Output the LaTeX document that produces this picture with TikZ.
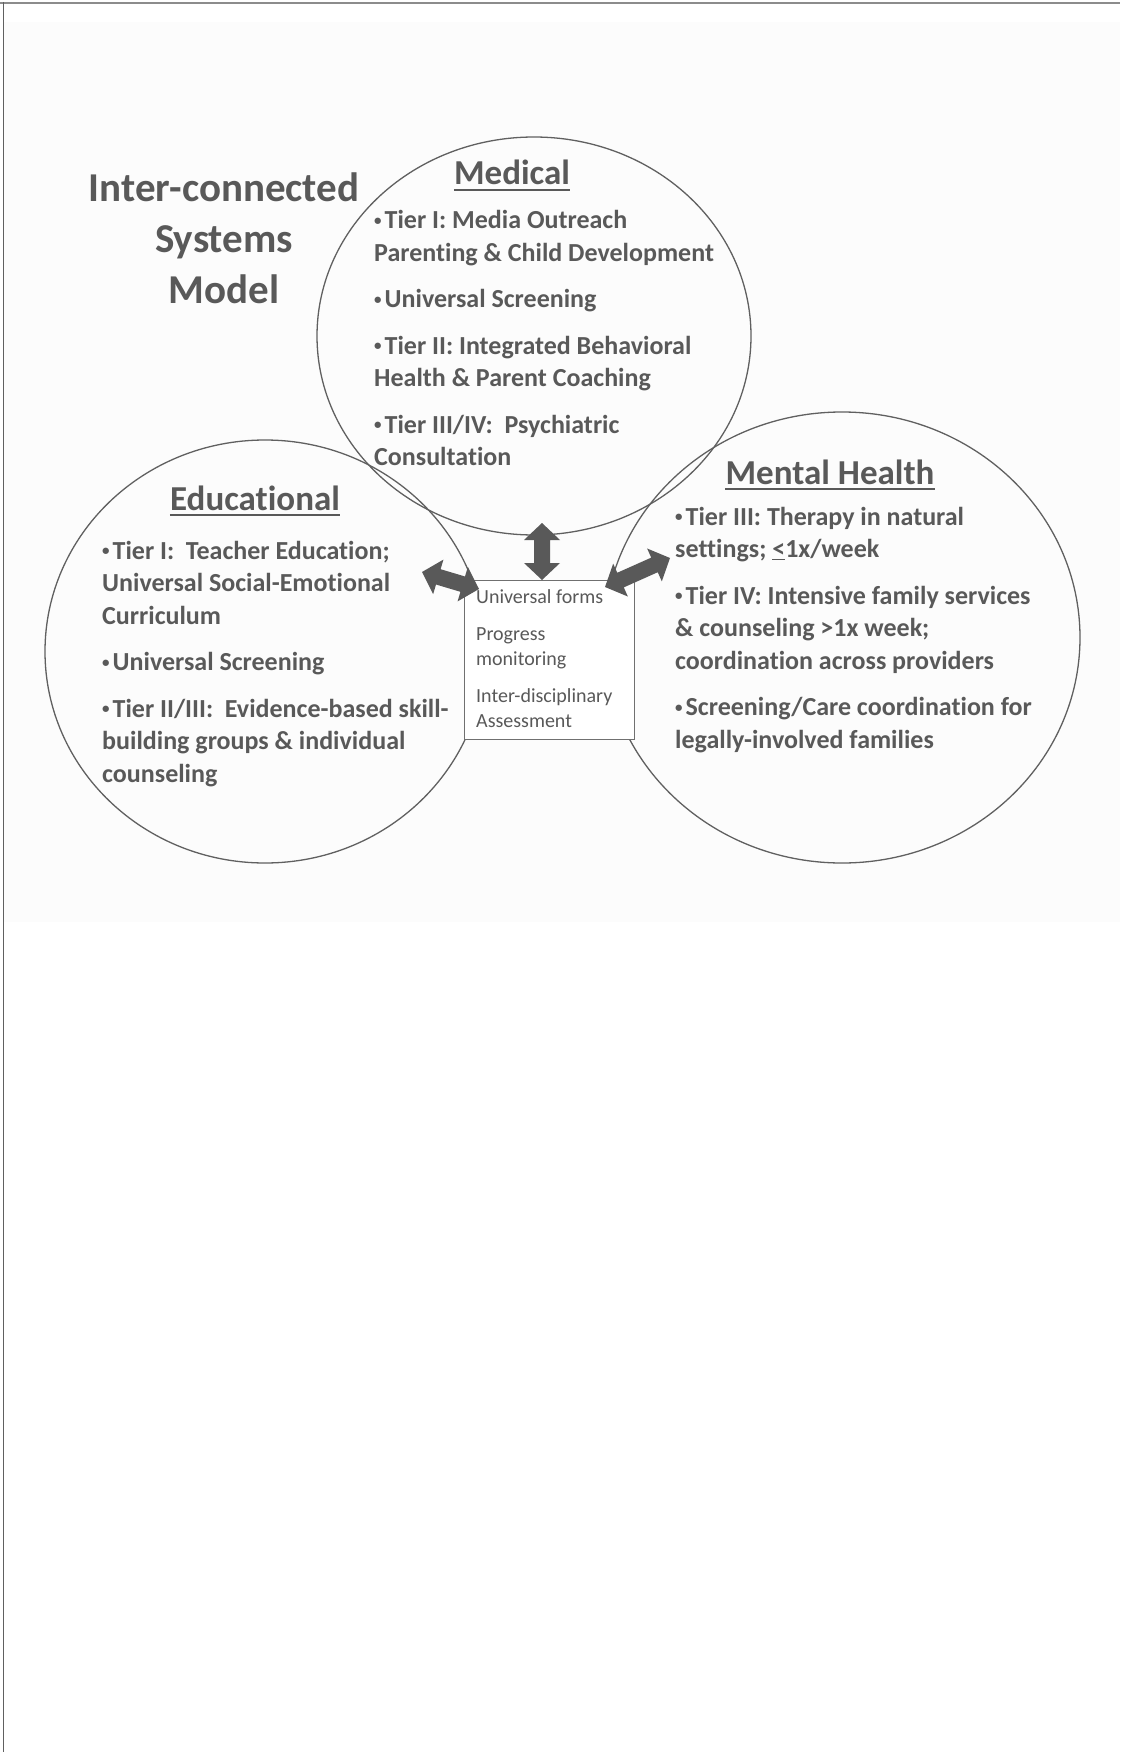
\documentclass[tikz,border=0pt]{standalone}
\usepackage{fontspec}
\setmainfont{Carlito}[Ligatures={NoCommon,NoContextual,NoRequired},Contextuals={NoAlternate}]
\usetikzlibrary{shapes.geometric,calc}
\definecolor{ink}{HTML}{595959}
\definecolor{rim}{HTML}{606060}
\definecolor{boxrim}{HTML}{707070}
\definecolor{haze}{HTML}{FCFCFC}
\definecolor{frameline}{HTML}{8C8C8C}
% one text line of a left-aligned stack
\newcommand\tline[1]{\hbox{#1}}
% one centred text line of a stack
\newcommand\midline[1]{\hbox to 0pt{\hss#1\hss}}
% extra space between bullet items
\newcommand\pgap{\vskip 14pt}
% small list bullet
\newcommand\bul{\raisebox{3.5pt}{\fontsize{15}{15}\selectfont •}\hspace{3pt}}
% thick double-headed block arrow between two named points
\newcommand\fatarrow[2]{%
  \fill[arrowfill] (#1)
    -- ($(#1)!17pt!(#2)!18pt!90:(#2)$)
    -- ($(#1)!17pt!(#2)!8pt!90:(#2)$)
    -- ($(#2)!17pt!(#1)!8pt!-90:(#1)$)
    -- ($(#2)!17pt!(#1)!18pt!-90:(#1)$)
    -- (#2)
    -- ($(#2)!17pt!(#1)!18pt!90:(#1)$)
    -- ($(#2)!17pt!(#1)!8pt!90:(#1)$)
    -- ($(#1)!17pt!(#2)!8pt!-90:(#2)$)
    -- ($(#1)!17pt!(#2)!18pt!-90:(#2)$)
    -- cycle;}
\begin{document}
\begin{tikzpicture}[x=1pt,y=-1pt,
  sphere/.style={ellipse, draw=rim, line width=1.3pt, inner sep=0pt},
  body/.style={anchor=base west, inner sep=0pt, text=ink,
    font=\fontsize{26}{32.5}\selectfont\bfseries},
  header/.style={anchor=base, inner sep=0pt, text=ink,
    font=\fontsize{35}{42}\selectfont\bfseries},
  hdrline/.style={draw=ink, line width=2.2pt},
  arrowfill/.style={fill=ink},
  hubbox/.style={draw=boxrim, fill=white, line width=1.2pt, inner sep=0pt,
    minimum width=170pt, minimum height=159pt, anchor=north west},
  hubtext/.style={anchor=base west, inner sep=0pt, text=ink,
    font=\fontsize{20}{25}\selectfont}]
\useasboundingbox (0,0) rectangle (1120,1752);

% page backdrop and frame
\fill[haze] (3,22) rectangle (1120,922);
\draw[frameline, line width=2pt] (0,3) -- (1120,3);
\draw[rim, line width=1pt] (3,2) -- (3,1752);

% the three systems
\node[sphere, minimum width=434pt, minimum height=398pt] (med) at (534,336) {};
\node[sphere, minimum width=440pt, minimum height=423pt] (edu) at (265,651.5) {};
\node[sphere, minimum width=476pt, minimum height=451pt] (mh) at (842,637.5) {};

% shared hub
\node[hubbox] (hub) at (464,580) {};
\node[hubtext] (hubtxt) at (476,603) {\vtop{%
  \tline{Universal forms}\vskip 12pt
  \tline{Progress}\tline{monitoring}\vskip 12pt
  \tline{Inter-disciplinary}\tline{Assessment}}};

% links between the hub and each system
\coordinate (medEnd) at (542,523);
\coordinate (hubTop) at (542,580);
\coordinate (eduEnd) at (422,572);
\coordinate (hubLeft) at (479,589);
\coordinate (mhEnd) at (670,558);
\coordinate (hubRight) at (605,587);
\fatarrow{medEnd}{hubTop}
\fatarrow{eduEnd}{hubLeft}
\fatarrow{hubRight}{mhEnd}

% title
\node[anchor=base, inner sep=0pt, text=ink,
  font=\fontsize{41}{51}\selectfont\bfseries] (title) at (224,202) {\vtop{%
  \midline{Inter-connected}\midline{Systems}\midline{Model}}};

% headers
\node[header] (medhdr) at (512,185) {Medical};
\node[header] (eduhdr) at (255,510) {Educational};
\node[header] (mhhdr) at (830,484) {Mental Health};
\foreach \h in {medhdr,eduhdr,mhhdr}
  \draw[hdrline] ([yshift=-5pt]\h.base west) -- ([yshift=-5pt]\h.base east);

% tier lists
\node[body] (medtxt) at (374,229) {\vtop{%
  \tline{\bul Tier I: Media Outreach}
  \tline{Parenting \& Child Development}\pgap
  \tline{\bul Universal Screening}\pgap
  \tline{\bul Tier II: Integrated Behavioral}
  \tline{Health \& Parent Coaching}\pgap
  \tline{\bul Tier III/IV:\ \ Psychiatric}
  \tline{Consultation}}};

\node[body] (edutxt) at (102,559) {\vtop{%
  \tline{\bul Tier I:\ \ Teacher Education;}
  \tline{Universal Social-Emotional}
  \tline{Curriculum}\pgap
  \tline{\bul Universal Screening}\pgap
  \tline{\bul Tier II/III:\ \ Evidence-based skill-}
  \tline{building groups \& individual}
  \tline{counseling}}};

\node[body] (mhtxt) at (675,525) {\vtop{%
  \tline{\bul Tier III: Therapy in natural}
  \tline{settings; \underline{<}1x/week}\pgap
  \tline{\bul Tier IV: Intensive family services}
  \tline{\& counseling >1x week;}
  \tline{coordination across providers}\pgap
  \tline{\bul Screening/Care coordination for}
  \tline{legally-involved families}}};
\end{tikzpicture}
\end{document}
